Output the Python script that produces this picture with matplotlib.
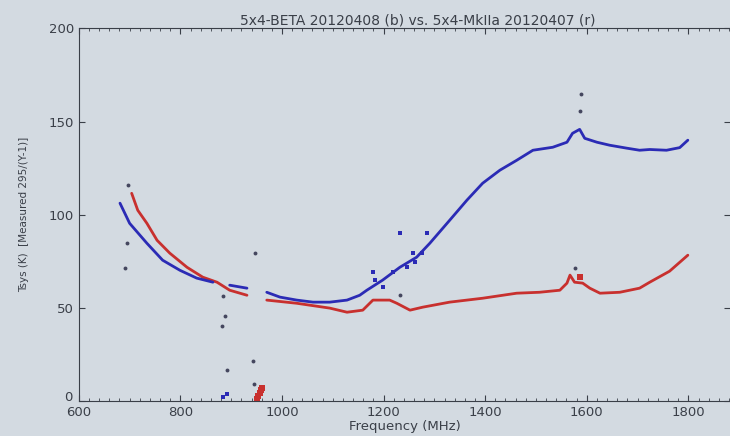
import numpy as np
import matplotlib
matplotlib.use("Agg")
import matplotlib.pyplot as plt
from matplotlib.transforms import ScaledTranslation

freq_b = [681, 700, 734, 765, 799, 832, 864, np.nan, 897, 931, np.nan,
          970, 996, 1029, 1061, 1094, 1128, 1153, 1167, 1198, 1232, 1265,
          1291, 1330, 1364, 1395, 1429, 1462, 1494, 1533, 1561, 1572, 1586,
          1596, 1620, 1645, 1679, 1704, 1724, 1757, 1783, 1799]
tsys_b = [106.2, 95.4, 84.7, 75.6, 70.2, 66.0, 63.8, np.nan, 62.2, 60.6, np.nan,
          58.4, 55.8, 54.2, 53.1, 53.1, 54.2, 56.8, 59.5, 64.9, 71.8, 77.2,
          84.7, 97.0, 107.8, 116.9, 123.9, 129.2, 134.6, 136.2, 138.9, 143.7, 145.8,
          141.0, 138.9, 137.3, 135.7, 134.6, 135.0, 134.6, 136.0, 140.0]

freq_r = [704, 716, 734, 754, 779, 813, 844, 872, 897, 931, np.nan,
          970, 1029, 1094, 1128, 1159, 1179, 1212, 1226, 1252, 1277, 1330,
          1395, 1462, 1507, 1547, 1561, 1567, 1576, 1592, 1606, 1626, 1665,
          1704, 1724, 1763, 1799]
tsys_r = [111.5, 102.4, 95.4, 86.3, 79.4, 71.8, 66.5, 63.8, 59.5, 56.8, np.nan,
          54.2, 52.5, 49.9, 47.7, 48.8, 54.2, 54.2, 52.5, 48.8, 50.4, 53.1,
          55.2, 57.9, 58.4, 59.5, 63.3, 67.6, 63.8, 63.3, 60.6, 57.9, 58.4,
          60.6, 63.8, 69.7, 78.3]

# pontos soltos (azul)
extra_b_f = [1179, 1183, 1198, 1218, 1232, 1246, 1258, 1261, 1275, 1285, 883, 891]
extra_b_t = [69.2, 64.9, 61.1, 69.2, 90.0, 71.8, 79.4, 74.5, 79.4, 90.0, 2.1, 4.0]

# pontos soltos (vermelho)
extra_r_f = [950, 953, 956, 958, 960, 1586]
extra_r_t = [1.0, 3.0, 4.5, 6.0, 7.0, 66.5]

# pontos escuros isolados
out_f = [696, 694, 690, 946, 883, 887, 881, 943, 891, 944, 1232, 1588, 1586, 1577]
out_t = [115.8, 84.7, 71.3, 79.4, 56.3, 45.6, 40.2, 21.4, 16.6, 9.1, 56.8, 165.0, 155.5, 71.3]

bg = '#d3dae1'
txt = '#3a3f48'

fig = plt.figure(figsize=(7.3, 4.36), dpi=100, facecolor=bg)
ax = fig.add_axes([0.108, 0.080, 0.892, 0.855])
ax.set_facecolor(bg)

ax.plot(freq_r, tsys_r, color='#c8302e', lw=2.0, solid_capstyle='round')
ax.plot(freq_b, tsys_b, color='#2b2bb5', lw=2.0, solid_capstyle='round')
ax.plot(extra_b_f, extra_b_t, 's', color='#2b2bb5', ms=3, mew=0)
ax.plot(extra_r_f, extra_r_t, 's', color='#c8302e', ms=4, mew=0)
ax.plot(out_f, out_t, 'o', color='#44465e', ms=2.8, mew=0)

ax.set_xlim(600, 1882)
ax.set_ylim(0, 200)
ax.set_xticks([600, 800, 1000, 1200, 1400, 1600, 1800])
ax.set_xticks(np.arange(600, 1881, 20), minor=True)
ax.set_yticks([0, 50, 100, 150, 200])
ax.tick_params(direction='in', top=True, right=True, labelsize=9.5,
               colors=txt, length=4)
ax.tick_params(axis='x', which='minor', direction='in', top=True, length=2,
               colors=txt)
ax.spines['right'].set_visible(False)
for s in ['left', 'bottom', 'top']:
    ax.spines[s].set_color(txt)

# o "0" do eixo y sobe um pouco para nao cobrir o "600"
lbl0 = ax.get_yticklabels()[0]
lbl0.set_transform(lbl0.get_transform() + ScaledTranslation(-1 / 72, 4 / 72, fig.dpi_scale_trans))

ax.set_xlabel('Frequency (MHz)', fontsize=9.5, color=txt, labelpad=1)
ax.set_ylabel('Tsys (K)  [Measured 295/(Y-1)]', fontsize=7.5, color=txt,
              labelpad=14)
ax.set_title('5x4-BETA 20120408 (b) vs. 5x4-MkIIa 20120407 (r)',
             fontsize=10, color=txt, x=0.52, pad=3)

fig.savefig('out.png', dpi=100, facecolor=bg)
